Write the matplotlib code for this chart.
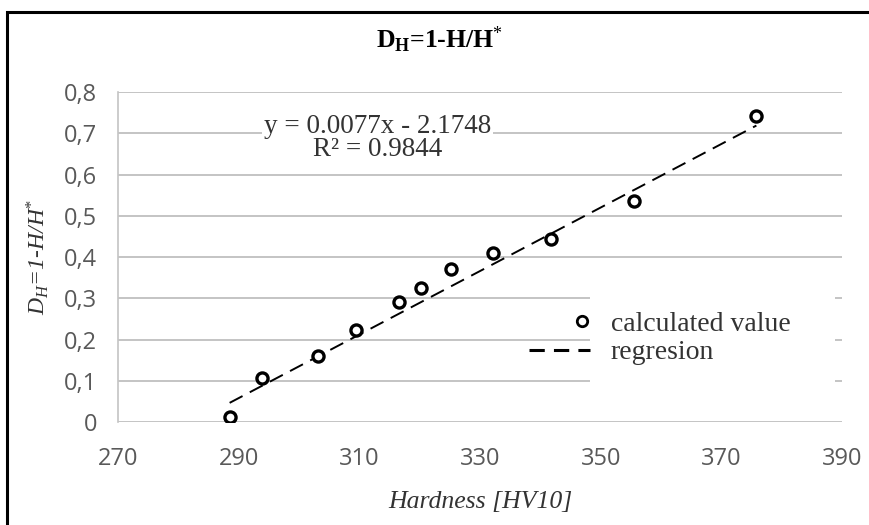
import matplotlib
matplotlib.use("Agg")
import matplotlib.pyplot as plt
import numpy as np
from matplotlib.legend_handler import HandlerLine2DCompound
from matplotlib.lines import Line2D
from matplotlib.patches import Rectangle

# values
hardness = [288.5, 293.9, 303.2, 309.4, 316.5, 320.2, 325.2, 332.1, 341.7, 355.5, 375.8]
damage = [0.013, 0.107, 0.160, 0.223, 0.292, 0.326, 0.370, 0.409, 0.445, 0.537, 0.742]
slope = 0.0077
intercept = -2.1748
r_squared = 0.9844
x_ticks = [270, 290, 310, 330, 350, 370, 390]
y_ticks = [0, 0.1, 0.2, 0.3, 0.4, 0.5, 0.6, 0.7, 0.8]
y_tick_labels = ["0", "0,1", "0,2", "0,3", "0,4", "0,5", "0,6", "0,7", "0,8"]

plt.rcParams['mathtext.fontset'] = 'custom'
plt.rcParams['mathtext.rm'] = 'Liberation Serif'
plt.rcParams['mathtext.it'] = 'Liberation Serif:italic'
plt.rcParams['mathtext.bf'] = 'Liberation Serif:bold'
serif = 'Liberation Serif'
tickfont = 'Open Sans'
grey = '#595959'
textc = '#333333'
gridc = '#c4c4c4'


class MarkerRight(HandlerLine2DCompound):
    # single legend marker sits at the right end of the handle, like Excel
    def get_xdata(self, legend, xdescent, ydescent, width, height, fontsize):
        return [-xdescent, -xdescent + width], [-xdescent + 0.88 * width]


fig = plt.figure(figsize=(8.69, 5.25), dpi=100)
ax = fig.add_axes([0.1358, 0.196, 0.8332, 0.6286])

for y in y_ticks:
    ax.axhline(y, color=gridc, lw=1.4, zorder=0)

xfit = np.array([min(hardness), max(hardness)])
ax.plot(xfit, slope * xfit + intercept, color='black', lw=1.4,
        dashes=(7.5, 4.2), zorder=2)
ax.plot(hardness, damage, linestyle='none', marker='o', ms=8,
        mfc='white', mec='black', mew=2.4, zorder=3)

ax.set_xlim(270, 390)
ax.set_ylim(0, 0.8)
ax.set_xticks(x_ticks)
ax.set_yticks(y_ticks)
ax.set_yticklabels(y_tick_labels)
ax.tick_params(length=0, labelsize=17, labelcolor=grey)
ax.tick_params(axis='x', pad=18)
ax.tick_params(axis='y', pad=15)
for lab in ax.get_xticklabels() + ax.get_yticklabels():
    lab.set_family(tickfont)
for s in ['top', 'right', 'bottom']:
    ax.spines[s].set_visible(False)
ax.spines['left'].set_color(gridc)
ax.spines['left'].set_linewidth(1.2)

ax.text(313, 0.717, f"y = {slope}x - {abs(intercept)}", family=serif,
        fontsize=19.5, color=textc, ha='center', va='center',
        bbox=dict(fc='white', ec='none', pad=1.5))
ax.text(313, 0.661, f"R\u00b2 = {r_squared}", family=serif, fontsize=19.5,
        color=textc, ha='center', va='center')

# white area behind the legend hides the grid lines
ax.add_patch(Rectangle((0.652, 0.11), 0.338, 0.28, transform=ax.transAxes,
                       fc='white', ec='none', zorder=1))
h1 = Line2D([], [], linestyle='none', marker='o', ms=7.5, mfc='white',
            mec='black', mew=2.0)
h2 = Line2D([], [], color='black', lw=2.2, dashes=(5, 3))
leg = ax.legend([h1, h2], ["calculated value", "regresion"],
                handler_map={h1: MarkerRight()}, loc='center left',
                bbox_to_anchor=(0.548, 0.253), frameon=False,
                prop={'family': serif, 'size': 20}, handlelength=2.2,
                handletextpad=0.75, labelspacing=0.1, borderpad=0)
for t in leg.get_texts():
    t.set_color(textc)

fig.text(0.506, 1 - 40 / 525, r"D$_{\mathbf{H}}$=1-H/H$^{*}$", family=serif,
         fontsize=18.5, fontweight='bold', ha='center', va='center')
ax.set_xlabel("Hardness [HV10]", family=serif, style='italic', fontsize=18.5,
              color=textc, labelpad=14)
ax.set_ylabel(r"$D_H$=1-H/H$^{*}$", family=serif, style='italic', fontsize=17,
              color=textc, labelpad=9)

# chart border (left and top edges visible in the crop)
fig.add_artist(Rectangle((7 / 869, -0.1), 1.2, 1.1 - 12 / 525,
                         transform=fig.transFigure, fill=False, ec='black',
                         lw=2.2))

fig.savefig("out.png", dpi=100)
